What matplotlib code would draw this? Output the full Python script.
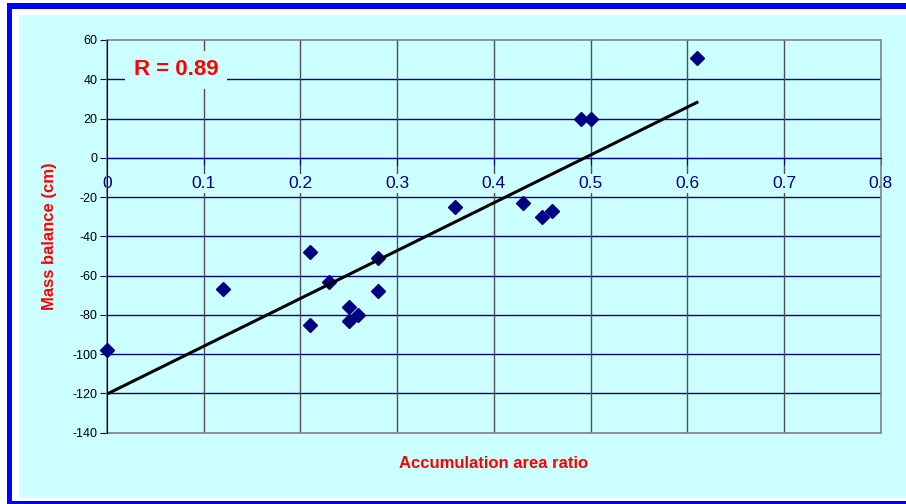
import numpy as np
import matplotlib
matplotlib.use("Agg")
import matplotlib.pyplot as plt
from matplotlib.patches import Rectangle

plt.rcParams['font.family'] = ['Liberation Sans', 'DejaVu Sans']
plt.rcParams['axes.unicode_minus'] = False

# data
aar = [0.0, 0.12, 0.21, 0.21, 0.23, 0.25, 0.25, 0.26, 0.28, 0.28,
       0.36, 0.43, 0.45, 0.46, 0.49, 0.50, 0.61]
mass_balance = [-98, -67, -48, -85, -63, -76, -83, -80, -51, -68,
                -25, -23, -30, -27, 20, 20, 51]
x_ticks = [0, 0.1, 0.2, 0.3, 0.4, 0.5, 0.6, 0.7, 0.8]
x_tick_labels = ["0", "0.1", "0.2", "0.3", "0.4", "0.5", "0.6", "0.7", "0.8"]
y_ticks = [60, 40, 20, 0, -20, -40, -60, -80, -100, -120, -140]
r_label = "R = 0.89"

navy = "#000080"
cyan = "#CCFFFF"
W, H = 906, 504

fig = plt.figure(figsize=(W / 100, H / 100), dpi=100)
fig.patch.set_facecolor("white")

# frame: blue border, white strip, cyan panel
def px_rect(x0, y0, x1, y1, color, z):
    fig.patches.append(Rectangle((x0 / W, 1 - y1 / H), (x1 - x0) / W, (y1 - y0) / H,
                                 transform=fig.transFigure, facecolor=color,
                                 edgecolor="none", zorder=z))

px_rect(7, 3, W + 5, H + 5, "#0000FF", -3)
px_rect(12, 9, W + 5, 501, "white", -2)
px_rect(19, 15, W + 5, 497, cyan, -1)

ax = fig.add_axes([107 / W, 1 - 432.7 / H, (880.7 - 107) / W, (432.7 - 40) / H])
ax.set_facecolor(cyan)
ax.set_xlim(0, 0.8)
ax.set_ylim(-140, 60)

# grid
for y in y_ticks[1:-1]:
    ax.axhline(y, color=navy, lw=1, zorder=1)
for x in x_ticks[1:-1]:
    ax.axvline(x, color="#505050", lw=1, zorder=1)

ax.add_patch(Rectangle((0, 0), 1, 1, transform=ax.transAxes, fill=False,
                       edgecolor="#808080", lw=1.2, zorder=2, clip_on=False))

for s in ["top", "right"]:
    ax.spines[s].set_visible(False)
ax.spines["bottom"].set_position(("data", 0))
ax.spines["bottom"].set_color(navy)
ax.spines["left"].set_color(navy)
ax.spines["bottom"].set_zorder(2)

ax.set_xticks(x_ticks)
ax.set_xticklabels(x_tick_labels)
ax.set_yticks(y_ticks)
ax.tick_params(axis="x", direction="out", length=5, pad=8, color=navy,
               labelcolor=navy, labelsize=12.5)
ax.tick_params(axis="y", direction="out", length=5, pad=2, color=navy,
               labelcolor="black", labelsize=9)
for lbl in ax.get_xticklabels():
    lbl.set_bbox(dict(facecolor=cyan, edgecolor="none", pad=1.5))

# points and trend line
ax.plot(aar, mass_balance, linestyle="none", marker="D", ms=7.5,
        color=navy, zorder=3, clip_on=False)
slope, intercept = np.polyfit(aar, mass_balance, 1)
xl = np.array([min(aar), max(aar)])
ax.plot(xl, slope * xl + intercept, color="black", lw=2.2, zorder=4)

ax.text(0.0714, 44.8, r_label, color="red", fontsize=16, fontweight="bold",
        ha="center", va="center", zorder=5,
        bbox=dict(facecolor=cyan, edgecolor="none", pad=6))

fig.text(494 / W, 1 - 464 / H, "Accumulation area ratio", color="red",
         fontsize=12, fontweight="bold", ha="center", va="center")
fig.text(50 / W, 1 - 236 / H, "Mass balance (cm)", color="red",
         fontsize=12, fontweight="bold", ha="center", va="center", rotation=90)

fig.savefig("out.png", dpi=100)
